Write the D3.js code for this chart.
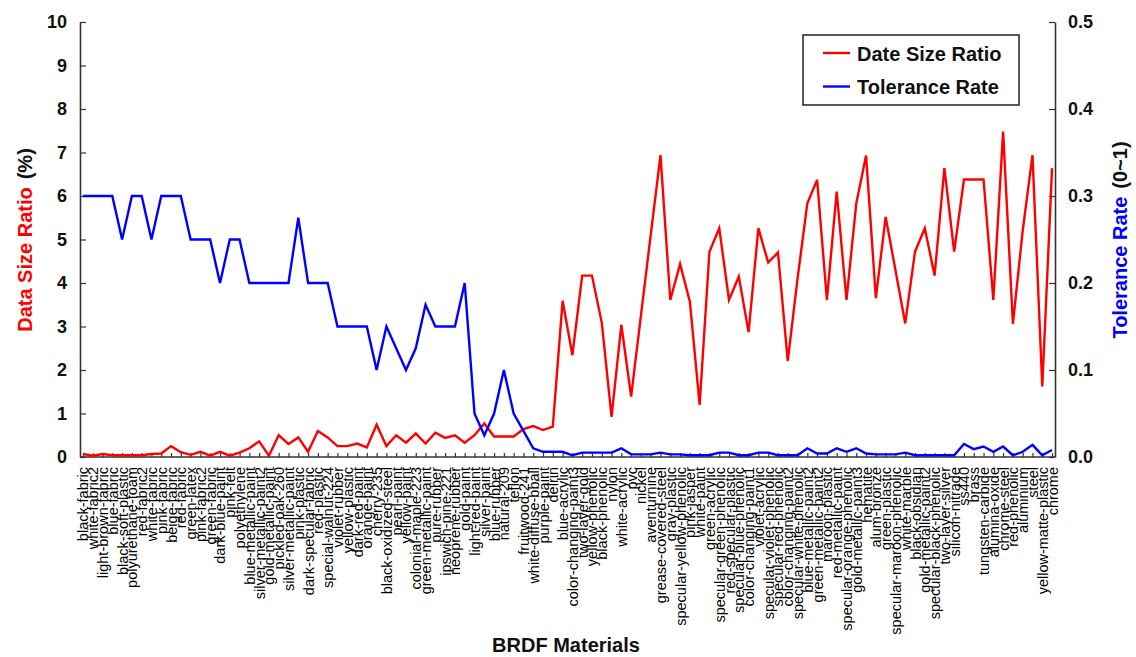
<!DOCTYPE html>
<html>
<head>
<meta charset="utf-8">
<script src="https://cdn.jsdelivr.net/npm/d3@7"></script>
<style>
  html, body { margin: 0; padding: 0; background: #fff; }
  svg { display: block; font-family: "Liberation Sans", Arial, sans-serif; }
</style>
</head>
<body>
<svg id="chart" width="1136" height="657"></svg>
<script>
// MERL BRDF materials, in plotted order
const materials = [
  "black-fabric","white-fabric2","light-brown-fabric","blue-fabric","black-soft-plastic",
  "polyurethane-foam","red-fabric2","white-fabric","pink-fabric","beige-fabric",
  "red-fabric","green-latex","pink-fabric2","green-fabric","dark-blue-paint",
  "pink-felt","polyethylene","blue-metallic-paint","silver-metallic-paint2","gold-metallic-paint",
  "pickled-oak-260","silver-metallic-paint","pink-plastic","dark-specular-fabric","red-plastic",
  "special-walnut-224","violet-rubber","yellow-plastic","dark-red-paint","orange-paint",
  "cherry-235","black-oxidized-steel","pearl-paint","yellow-paint","colonial-maple-223",
  "green-metallic-paint","pure-rubber","ipswich-pine-221","neoprene-rubber","gold-paint",
  "light-red-paint","silver-paint","blue-rubber","natural-209","teflon",
  "fruitwood-241","white-diffuse-bball","purple-paint","delrin","blue-acrylic",
  "color-changing-paint3","two-layer-gold","yellow-phenolic","black-phenolic","nylon",
  "white-acrylic","pvc","nickel","aventurnine","grease-covered-steel",
  "gray-plastic","specular-yellow-phenolic","pink-jasper","white-paint","green-acrylic",
  "specular-green-phenolic","red-specular-plastic","specular-blue-phenolic","color-changing-paint1","violet-acrylic",
  "specular-violet-phenolic","specular-red-phenolic","color-changing-paint2","specular-white-phenolic","blue-metallic-paint2",
  "green-metallic-paint2","maroon-plastic","red-metallic-paint","specular-orange-phenolic","gold-metallic-paint3",
  "hematite","alum-bronze","green-plastic","specular-maroon-phenolic","white-marble",
  "black-obsidian","gold-metallic-paint2","specular-black-phenolic","two-layer-silver","silicon-nitrade",
  "ss440","brass","tungsten-carbide","alumina-oxide","chrome-steel",
  "red-phenolic","aluminium","steel","yellow-matte-plastic","chrome"
];

// Data size ratio (%), left axis
const dataSizeRatio = [
  0.07,0.03,0.07,0.04,0.04,0.04,0.04,0.07,0.08,0.25,
  0.11,0.05,0.12,0.03,0.12,0.03,0.10,0.20,0.36,0.03,
  0.50,0.30,0.45,0.12,0.60,0.45,0.25,0.25,0.31,0.22,
  0.74,0.25,0.50,0.33,0.54,0.31,0.56,0.44,0.50,0.33,
  0.50,0.77,0.47,0.47,0.47,0.64,0.71,0.62,0.70,3.59,
  2.34,4.17,4.17,3.09,0.92,3.04,1.39,3.25,5.10,6.94,
  3.61,4.44,3.57,1.20,4.72,5.26,3.61,4.15,2.87,5.26,
  4.47,4.70,2.21,4.10,5.83,6.37,3.61,6.10,3.61,5.83,
  6.93,3.65,5.52,4.30,3.07,4.72,5.26,4.17,6.64,4.72,
  6.38,6.38,6.38,3.61,7.48,3.06,5.20,6.94,1.62,6.64
];

// Tolerance rate (0~1), right axis
const toleranceRate = [
  0.30,0.30,0.30,0.30,0.25,0.30,0.30,0.25,0.30,0.30,
  0.30,0.25,0.25,0.25,0.20,0.25,0.25,0.20,0.20,0.20,
  0.20,0.20,0.275,0.20,0.20,0.20,0.15,0.15,0.15,0.15,
  0.10,0.15,0.125,0.10,0.125,0.175,0.15,0.15,0.15,0.20,
  0.05,0.025,0.05,0.10,0.05,0.03,0.01,0.006,0.006,0.006,
  0.002,0.005,0.005,0.005,0.005,0.01,0.003,0.003,0.003,0.005,
  0.003,0.003,0.002,0.002,0.002,0.005,0.005,0.002,0.002,0.005,
  0.005,0.002,0.002,0.002,0.01,0.004,0.004,0.01,0.006,0.01,
  0.004,0.003,0.003,0.003,0.005,0.002,0.002,0.002,0.002,0.002,
  0.015,0.009,0.012,0.006,0.012,0.002,0.006,0.014,0.002,0.008
];

const leftTicks = [0,1,2,3,4,5,6,7,8,9,10];
const rightTicks = [0,0.1,0.2,0.3,0.4,0.5];
const seriesNames = ["Date Size Ratio", "Tolerance Rate"];

const RED = "#ff0000", BLUE = "#0000ff", AXIS = "#333";
const plot = { left: 80, right: 1055, top: 22, bottom: 457 };

const svg = d3.select("#chart");

const x = d3.scalePoint()
  .domain(materials)
  .range([plot.left, plot.right])
  .padding(0.3);

const yL = d3.scaleLinear().domain([0, 10]).range([plot.bottom, plot.top]);
const yR = d3.scaleLinear().domain([0, 0.5]).range([plot.bottom, plot.top]);

function styleAxis(g) {
  g.selectAll("path.domain").attr("stroke", AXIS).attr("stroke-width", 1.6);
  g.selectAll(".tick line").attr("stroke", AXIS).attr("stroke-width", 1.2);
}

// Left axis
svg.append("g")
  .attr("transform", `translate(${plot.left},0)`)
  .call(d3.axisLeft(yL).tickValues(leftTicks).tickFormat(d3.format("d"))
    .tickSizeInner(-6).tickSizeOuter(0).tickPadding(13))
  .call(styleAxis)
  .call(g => g.selectAll("text")
    .attr("font-size", 18).attr("font-weight", "bold").attr("fill", "#111")
    .attr("font-family", "Liberation Sans, Arial, sans-serif"));

// Right axis
svg.append("g")
  .attr("transform", `translate(${plot.right},0)`)
  .call(d3.axisRight(yR).tickValues(rightTicks).tickFormat(d3.format(".1f"))
    .tickSizeInner(-6).tickSizeOuter(0).tickPadding(13))
  .call(styleAxis)
  .call(g => g.selectAll("text")
    .attr("font-size", 18).attr("font-weight", "bold").attr("fill", "#111")
    .attr("font-family", "Liberation Sans, Arial, sans-serif"));

// Bottom axis with vertical material names
svg.append("g")
  .attr("transform", `translate(0,${plot.bottom})`)
  .call(d3.axisBottom(x).tickSizeInner(-4).tickSizeOuter(0))
  .call(g => g.select("path.domain").attr("d", `M${plot.left},0H${plot.right}`))
  .call(styleAxis)
  .call(g => g.selectAll("text")
    .attr("transform", "rotate(-90)")
    .attr("x", -10).attr("y", 5).attr("dy", 0)
    .attr("text-anchor", "end")
    .attr("font-size", 14.5).attr("fill", "#000")
    .attr("font-family", "Liberation Sans, Arial, sans-serif"));

// Series lines
const lineL = d3.line().x((d, i) => x(materials[i])).y(d => yL(d));
const lineR = d3.line().x((d, i) => x(materials[i])).y(d => yR(d));

svg.append("path").datum(dataSizeRatio)
  .attr("d", lineL).attr("fill", "none")
  .attr("stroke", RED).attr("stroke-width", 2.4).attr("stroke-linejoin", "miter");

svg.append("path").datum(toleranceRate)
  .attr("d", lineR).attr("fill", "none")
  .attr("stroke", BLUE).attr("stroke-width", 2.4).attr("stroke-linejoin", "miter");

// Axis titles
const leftTitle = svg.append("text")
  .attr("transform", "translate(32,240) rotate(-90)")
  .attr("text-anchor", "middle")
  .attr("font-size", 20).attr("font-weight", "bold");
leftTitle.append("tspan").attr("fill", RED).text("Data Size Ratio");
leftTitle.append("tspan").attr("fill", "#111").attr("dx", 8).text("(%)");

const rightTitle = svg.append("text")
  .attr("transform", "translate(1127,240) rotate(-90)")
  .attr("text-anchor", "middle")
  .attr("font-size", 20).attr("font-weight", "bold");
rightTitle.append("tspan").attr("fill", BLUE).text("Tolerance Rate");
rightTitle.append("tspan").attr("fill", "#111").attr("dx", 8).text("(0~1)");

svg.append("text")
  .attr("x", 566).attr("y", 652)
  .attr("text-anchor", "middle")
  .attr("font-size", 20).attr("font-weight", "bold").attr("fill", "#111")
  .text("BRDF Materials");

// Legend
const legend = svg.append("g").attr("transform", "translate(803,35)");
legend.append("rect")
  .attr("width", 216).attr("height", 70)
  .attr("fill", "#fff").attr("stroke", "#222").attr("stroke-width", 1.5);
const legendColors = [RED, BLUE];
seriesNames.forEach((name, i) => {
  const row = legend.append("g").attr("transform", `translate(0,${18 + i * 33.5})`);
  row.append("line").attr("x1", 20).attr("x2", 47).attr("y1", 0).attr("y2", 0)
    .attr("stroke", legendColors[i]).attr("stroke-width", 2.4);
  row.append("text").attr("x", 54).attr("y", 7.5)
    .attr("font-size", 20).attr("font-weight", "bold").attr("fill", "#111")
    .text(name);
});
</script>
</body>
</html>
